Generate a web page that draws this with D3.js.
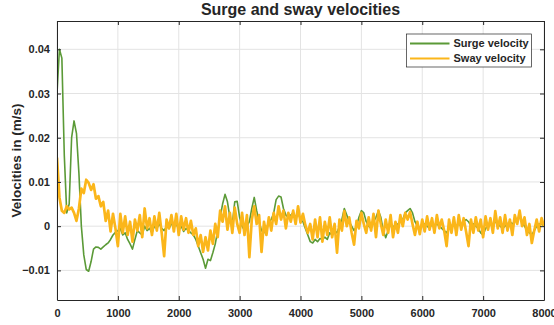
<!DOCTYPE html>
<html>
<head>
<meta charset="utf-8">
<script src="https://cdn.jsdelivr.net/npm/d3@7"></script>
<style>
  body { margin: 0; background: #fff; }
  svg text { font-family: "Liberation Sans", Arial, Helvetica, sans-serif; fill: #262626; }
</style>
</head>
<body>
<svg id="chart"></svg>
<script>
// sample spacing of both series (time units)
const timeStep = 40;

const xTicks = [0, 1000, 2000, 3000, 4000, 5000, 6000, 7000, 8000];
const yTicks = [-0.01, 0, 0.01, 0.02, 0.03, 0.04];
const seriesNames = ['Surge velocity', 'Sway velocity'];

// surge velocity, one value every 40 units from 0 to 8000
const surge = [
  0.030, 0.040, 0.038, 0.016, 0.003, 0.005, 0.020, 0.0238, 0.021, 0.012,
  0.0, -0.0065, -0.0098, -0.0102, -0.008, -0.0052, -0.0047, -0.0048, -0.0052, -0.0047,
  -0.0042, -0.0038, -0.003, -0.002, -0.0014, -0.001, -0.0005, -0.002, -0.0015, -0.003,
  -0.004, -0.0052, -0.003, -0.001, -0.0015, -0.002, 0.0, -0.001, -0.0005, -0.0015,
  0.0, -0.0005, 0.0005, -0.0005, -0.001, 0.0, -0.0005, 0.0005, 0.0, 0.0005,
  -0.0008, 0.0, -0.0012, -0.0005, -0.001, -0.0015, -0.002, -0.003, -0.0045, -0.006,
  -0.0075, -0.0095, -0.0075, -0.0078, -0.006, -0.004, -0.001, 0.002, 0.005, 0.0072,
  0.0055, 0.002, 0.0005, 0.0055, 0.0056, 0.002, 0.0, -0.001, 0.0, 0.001,
  0.004, 0.0065, 0.0035, 0.001, -0.001, -0.0015, -0.0005, 0.001, 0.0015, 0.003,
  0.006, 0.0068, 0.0066, 0.004, 0.0025, 0.002, 0.0025, 0.003, 0.002, 0.003,
  0.0015, 0.001, -0.0005, -0.002, -0.0035, -0.0038, -0.003, -0.0035, -0.0028, -0.003,
  -0.0025, -0.003, -0.0015, -0.002, -0.001, -0.0015, 0.0, 0.0015, 0.004, 0.0025,
  0.001, 0.0, -0.001, 0.0, 0.002, 0.0035, 0.003, 0.001, 0.0, -0.0005,
  0.001, 0.002, 0.0035, 0.002, -0.001, -0.0026, -0.001, 0.0005, 0.0, -0.0005,
  0.0005, 0.001, 0.0015, 0.003, 0.0035, 0.004, 0.003, 0.001, 0.0, -0.0005,
  0.0, 0.0005, 0.0, -0.0005, 0.0005, 0.0, 0.0005, 0.0, -0.0005, -0.001,
  -0.0015, -0.0005, 0.0, 0.0005, 0.0, 0.0005, 0.0, 0.001, 0.0015, 0.001,
  0.0, 0.0005, 0.0, -0.0005, -0.0015, -0.002, -0.0005, 0.0, 0.0005, 0.0,
  0.001, 0.0005, 0.0, -0.0005, 0.0, 0.0005, 0.001, 0.0005, 0.001, 0.0015,
  0.002, 0.001, 0.0, -0.001, -0.0015, -0.002, -0.001, 0.0, 0.0005, 0.0005,
  0.0
];

// sway velocity, same spacing
const sway = [
  0.0155, 0.0065, 0.0035, 0.003, 0.0045, 0.0038, 0.0042, 0.003, 0.0012, 0.004,
  0.0085, 0.0075, 0.0105, 0.0098, 0.0082, 0.0095, 0.0062, 0.0068, 0.0045, 0.0055,
  0.0012, 0.0035, -0.0012, 0.0028, -0.0005, -0.0045, 0.0028, -0.0015, 0.0022, -0.002,
  0.001, -0.0035, 0.0015, -0.001, 0.0025, -0.0025, 0.004, -0.0005, 0.0018, -0.002,
  0.0022, -0.001, 0.003, -0.0015, -0.0068, 0.0015, -0.0005, 0.0025, -0.0012, 0.0028,
  -0.002, 0.0022, -0.0008, 0.0018, -0.0015, 0.0012, -0.002, -0.0005, -0.0045, -0.002,
  -0.0058, -0.0025, -0.0055, -0.001, -0.004, 0.0005, -0.0025, 0.0035, 0.001, 0.0045,
  -0.0008, 0.003, -0.0015, 0.0042, 0.0005, -0.0015, 0.003, -0.002, 0.0025, -0.007,
  0.0015, 0.0045, 0.0005, 0.0025, -0.0058, 0.001, -0.002, 0.002, -0.001, 0.003,
  0.0005, 0.0045, 0.0015, 0.0035, -0.0005, 0.003, 0.001, 0.0035, 0.0005, 0.0045,
  0.0008, 0.0028, 0.0002, -0.0015, 0.0005, -0.003, 0.0015, -0.0025, 0.002, -0.0035,
  0.001, -0.002, 0.002, -0.0025, 0.0005, -0.006, 0.0015, -0.001, 0.0034, 0.0,
  0.002, -0.0015, -0.0042, 0.0012, -0.0005, 0.003, 0.0005, -0.0015, 0.002, -0.001,
  0.0028, -0.0025, 0.0035, 0.0005, -0.002, 0.0015, -0.0015, 0.0025, -0.0025, 0.001,
  -0.0015, 0.0025, 0.0, 0.003, 0.0015, 0.0032, 0.0005, -0.002, 0.001, -0.0018,
  0.0015, -0.0012, 0.0022, -0.0008, 0.0018, -0.0015, 0.0025, -0.0005, 0.0015, -0.001,
  -0.0045, 0.0015, -0.0015, 0.002, -0.002, 0.0025, -0.0008, 0.0018, -0.0012, -0.0045,
  0.0015, -0.0015, 0.002, -0.001, 0.0015, -0.0025, 0.0022, -0.0008, 0.0018, -0.0015,
  0.0034, -0.0005, 0.002, -0.0015, 0.0025, -0.001, 0.0015, -0.002, 0.0025, 0.0005,
  0.0035, 0.0, 0.002, -0.002, 0.0005, -0.0038, -0.001, 0.0015, -0.0012, 0.0018,
  0.0
];

const colors = ['#5b9a37', '#fbb61a'];

const svgWidth = 554, svgHeight = 325;
const margin = {top: 21, right: 10, bottom: 25, left: 57};
const width = 487, height = 279;

const svg = d3.select('#chart')
  .attr('width', svgWidth)
  .attr('height', svgHeight);

const chart = svg.append('g')
  .attr('transform', `translate(${margin.left}, ${margin.top})`);

/*********** Scales *******************/
const xScale = d3.scaleLinear().domain([0, 8000]).range([0, width]);
const yScale = d3.scaleLinear().domain([-0.0167, 0.0464]).range([height, 0]);

/*********** Grid *********************/
chart.append('g')
  .selectAll('line')
  .data(xTicks)
  .join('line')
  .attr('x1', d => xScale(d)).attr('x2', d => xScale(d))
  .attr('y1', 0).attr('y2', height)
  .attr('stroke', '#e3e3e3');

chart.append('g')
  .selectAll('line')
  .data(yTicks)
  .join('line')
  .attr('x1', 0).attr('x2', width)
  .attr('y1', d => yScale(d)).attr('y2', d => yScale(d))
  .attr('stroke', '#e3e3e3');

/*********** Lines ********************/
chart.append('clipPath').attr('id', 'plot-clip')
  .append('rect').attr('width', width).attr('height', height);

const line = d3.line()
  .x((d, i) => xScale(i * timeStep))
  .y(d => yScale(d));

const plotLines = chart.append('g').attr('clip-path', 'url(#plot-clip)');

plotLines.append('path')
  .datum(surge)
  .attr('d', line)
  .attr('fill', 'none')
  .attr('stroke', colors[0])
  .attr('stroke-width', 1.6)
  .attr('stroke-linejoin', 'round');

plotLines.append('path')
  .datum(sway)
  .attr('d', line)
  .attr('fill', 'none')
  .attr('stroke', colors[1])
  .attr('stroke-width', 2.7)
  .attr('stroke-linejoin', 'round');

/*********** Axes (box with inward ticks) ****/
const tickLen = 4;
const styleAxis = g => {
  g.select('.domain').attr('stroke', '#262626');
  g.selectAll('.tick line').attr('stroke', '#262626');
  g.selectAll('.tick text')
    .style('font-size', '11px')
    .style('font-weight', 'bold')
    .attr('fill', '#262626');
};

chart.append('g')
  .attr('transform', `translate(0, ${height})`)
  .call(d3.axisBottom(xScale).tickValues(xTicks).tickFormat(d3.format('d'))
    .tickSizeInner(-tickLen).tickSizeOuter(0).tickPadding(9))
  .call(styleAxis);

chart.append('g')
  .call(d3.axisTop(xScale).tickValues(xTicks).tickFormat('')
    .tickSizeInner(-tickLen).tickSizeOuter(0))
  .call(styleAxis);

chart.append('g')
  .call(d3.axisLeft(yScale).tickValues(yTicks).tickFormat(d => d === 0 ? '0' : d3.format('.2f')(d))
    .tickSizeInner(-tickLen).tickSizeOuter(0).tickPadding(7))
  .call(styleAxis);

chart.append('g')
  .attr('transform', `translate(${width}, 0)`)
  .call(d3.axisRight(yScale).tickValues(yTicks).tickFormat('')
    .tickSizeInner(-tickLen).tickSizeOuter(0))
  .call(styleAxis);

/*********** Title and labels *********/
svg.append('text')
  .attr('x', margin.left + width / 2)
  .attr('y', 15)
  .attr('text-anchor', 'middle')
  .style('font-size', '16px')
  .style('font-weight', 'bold')
  .text('Surge and sway velocities');

svg.append('text')
  .attr('transform', `translate(21, ${margin.top + height / 2}) rotate(-90)`)
  .attr('text-anchor', 'middle')
  .style('font-size', '13.5px')
  .style('font-weight', 'bold')
  .text('Velocities in (m/s)');

/*********** Legend *******************/
const legend = svg.append('g').attr('transform', 'translate(406.5, 34)');

legend.append('rect')
  .attr('width', 125)
  .attr('height', 33)
  .attr('fill', '#fff')
  .attr('stroke', '#262626')
  .attr('stroke-width', 0.7);

const items = legend.selectAll('g.item')
  .data(seriesNames)
  .join('g')
  .attr('class', 'item')
  .attr('transform', (d, i) => `translate(0, ${9.5 + i * 15})`);

items.append('line')
  .attr('x1', 3.5).attr('x2', 43)
  .attr('stroke', (d, i) => colors[i])
  .attr('stroke-width', 2);

items.append('text')
  .attr('x', 47)
  .attr('dy', '0.35em')
  .style('font-size', '11px')
  .style('font-weight', 'bold')
  .text(d => d);
</script>
</body>
</html>
